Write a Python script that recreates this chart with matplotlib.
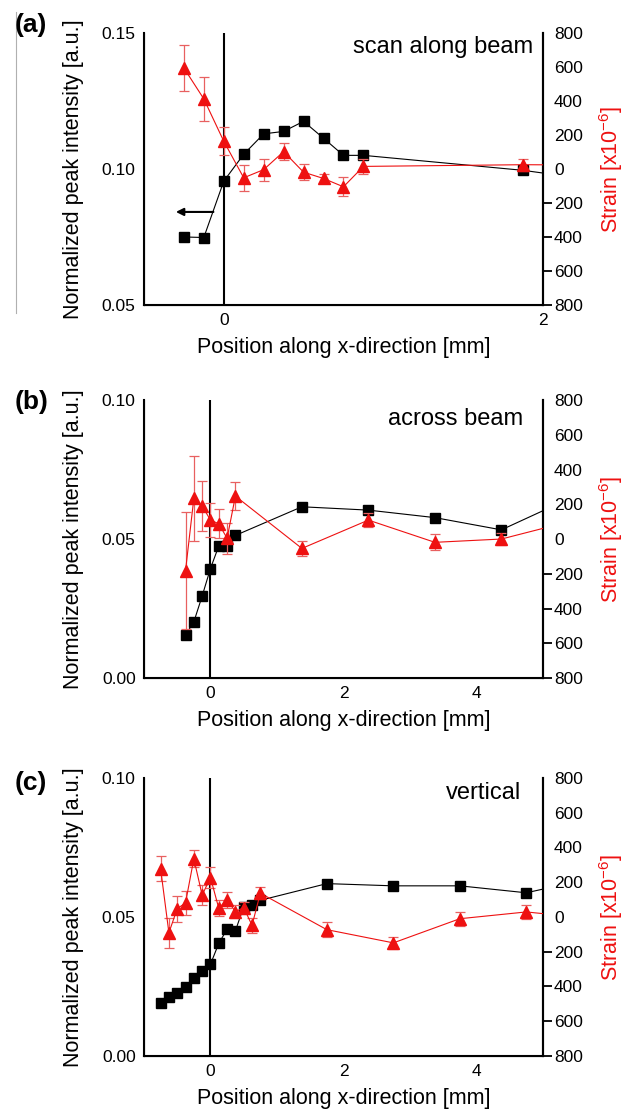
import matplotlib
matplotlib.use("Agg")
import matplotlib.pyplot as plt
from matplotlib.lines import Line2D

plt.rcParams['font.family'] = ['Liberation Sans', 'DejaVu Sans']
plt.rcParams['mathtext.fontset'] = 'custom'
plt.rcParams['mathtext.rm'] = 'Liberation Sans'
plt.rcParams['mathtext.default'] = 'rm'
plt.rcParams['axes.unicode_minus'] = False

# (a) scan along beam
a_x = [-0.25, -0.125, 0, 0.125, 0.25, 0.375, 0.5, 0.625, 0.75, 0.875, 1.875, 2.875]
a_int = [0.0750, 0.0748, 0.0955, 0.1054, 0.1129, 0.1138, 0.1175, 0.1113, 0.1050, 0.1050, 0.0995, 0.0915]
a_strain = [594, 412, 163, -52, -4, 102, -19, -56, -105, 15, 25, 20]
a_err = [135, 128, 83, 76, 65, 48, 48, 29, 55, 46, 35, 0]

# (b) across beam
b_x = [-0.375, -0.25, -0.125, 0, 0.125, 0.25, 0.375, 1.375, 2.375, 3.375, 4.375, 5.375]
b_int = [0.0155, 0.0202, 0.0295, 0.0394, 0.0475, 0.0475, 0.0513, 0.0616, 0.0604, 0.0577, 0.0533, 0.0643]
b_strain = [-182, 234, 190, 109, 88, 4, 247, -54, 109, -19, 0, 98]
b_err = [335, 245, 144, 96, 82, 88, 80, 42, 38, 46, 36, 0]

# (c) vertical
c_x = [-0.75, -0.625, -0.5, -0.375, -0.25, -0.125, 0, 0.125, 0.25, 0.375, 0.5, 0.625, 0.75,
       1.75, 2.75, 3.75, 4.75, 5.75]
c_int = [0.0189, 0.0211, 0.0226, 0.0248, 0.0282, 0.0307, 0.0330, 0.0405, 0.0456, 0.0450,
         0.0537, 0.0544, 0.0560, 0.0620, 0.0612, 0.0612, 0.0587, 0.0640]
c_strain = [278, -91, 48, 81, 335, 126, 227, 50, 100, 30, 54, -48, 137, -73, -149, -10, 29, -10]
c_err = [72, 86, 75, 68, 48, 57, 59, 45, 46, 38, 35, 43, 35, 43, 36, 40, 40, 0]

panels = [
    ("(a)", "scan along beam", a_x, a_int, a_strain, a_err, (-0.5, 2), [0, 2], (0.05, 0.15), [0.05, 0.10, 0.15]),
    ("(b)", "across beam", b_x, b_int, b_strain, b_err, (-1, 5), [0, 2, 4], (0.0, 0.10), [0.0, 0.05, 0.10]),
    ("(c)", "vertical", c_x, c_int, c_strain, c_err, (-1, 5), [0, 2, 4], (0.0, 0.10), [0.0, 0.05, 0.10]),
]

# axes rectangles in figure fractions (left, bottom, width, height)
rects = [
    [0.2278, 0.7250, 0.6313, 0.2453],
    [0.2278, 0.3886, 0.6313, 0.2507],
    [0.2278, 0.0478, 0.6313, 0.2507],
]
letter_y = [1 - 25 / 1109, 1 - 402 / 1109, 1 - 783 / 1109]
text_pos = [(0.975, 0.949), (0.950, 0.932), (0.945, 0.946)]

red = '#ee1111'
err_red = '#e86060'
strain_ticks = [800, 600, 400, 200, 0, -200, -400, -600, -800]

fig = plt.figure(figsize=(6.32, 11.09), dpi=100)

for i, (letter, title, x, yi, ys, ye, xlim, xt, ylim, yt) in enumerate(panels):
    ax = fig.add_axes(rects[i])
    ax.axvline(0, color='black', lw=1.5, zorder=1)
    ax.plot(x, yi, color='black', lw=0.8, marker='s', markersize=7.5,
            markerfacecolor='black', markeredgecolor='black', zorder=3)
    ax.set_xlim(*xlim)
    ax.set_ylim(*ylim)
    ax.set_xticks(xt)
    ax.set_xticklabels([str(v) for v in xt])
    ax.set_yticks(yt)
    ax.set_yticklabels(["%.2f" % v for v in yt])
    ax.tick_params(axis='both', length=0, labelsize=12.5)
    ax.tick_params(axis='y', pad=6)
    ax.tick_params(axis='x', pad=6)
    ax.spines['top'].set_visible(False)
    for s in ['left', 'bottom', 'right']:
        ax.spines[s].set_linewidth(1.5)
    ax.set_xlabel("Position along x-direction [mm]", fontsize=15.5, labelpad=6)
    ax.set_ylabel("Normalized peak intensity [a.u.]", fontsize=15.5)
    ax.yaxis.set_label_coords(-0.15, 0.5)
    ax.text(text_pos[i][0], text_pos[i][1], title, transform=ax.transAxes,
            ha='right', va='center', fontsize=17)

    ax2 = ax.twinx()
    ax2.errorbar(x, ys, yerr=ye, color=red, lw=0.8, marker='^', markersize=8.5,
                 markerfacecolor=red, markeredgecolor=red, ecolor=err_red,
                 elinewidth=0.9, capsize=3.5, capthick=0.9, zorder=4)
    ax2.set_ylim(-800, 800)
    ax2.set_yticks(strain_ticks)
    ax2.set_yticklabels([str(abs(v)) for v in strain_ticks])
    ax2.tick_params(axis='y', which='major', length=0, labelsize=12.5, pad=8)
    # short dashes beside the negative strain values, drawn just right of the spine
    neg = [v for v in strain_ticks if v < 0]
    ax2.plot([1.012] * len(neg), neg, linestyle='none', marker='_', markersize=6,
             markeredgewidth=1.3, color='black', clip_on=False,
             transform=ax2.get_yaxis_transform())
    ax2.spines['top'].set_visible(False)
    ax2.spines['right'].set_linewidth(1.5)
    ax2.set_ylabel("Strain [x10$^{-6}$]", color=red, fontsize=15.5)
    ax2.yaxis.set_label_coords(1.135, 0.5)

    fig.text(15 / 632, letter_y[i], letter, fontsize=19, fontweight='bold',
             ha='left', va='center')

    if i == 0:
        ax.annotate("", xy=(-0.30, 0.0842), xytext=(-0.065, 0.0842),
                    arrowprops=dict(arrowstyle='-|>', color='black', lw=1.5,
                                    mutation_scale=11, shrinkA=0, shrinkB=0))

# thin grey edge line visible at the left of the top panel
fig.add_artist(Line2D([16 / 632, 16 / 632], [1 - 12 / 1109, 1 - 313 / 1109],
                      color='#b0b0b0', lw=0.8))

fig.savefig("out.png", dpi=100)
